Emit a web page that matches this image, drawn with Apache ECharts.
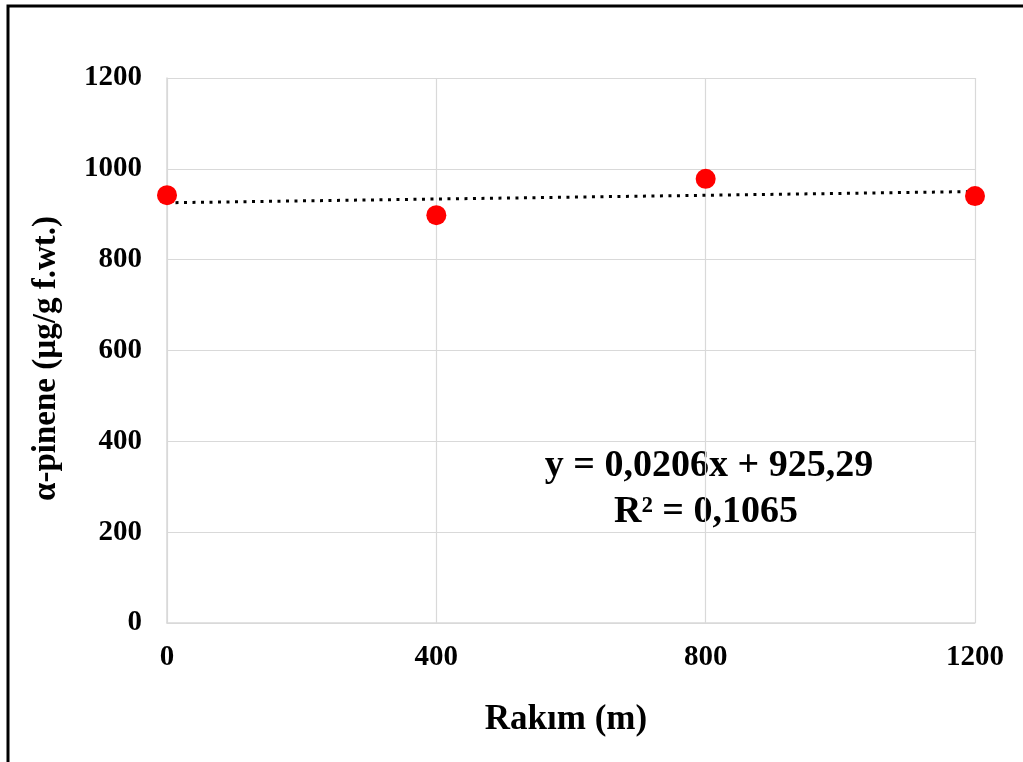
<!DOCTYPE html>
<html>
<head>
<meta charset="utf-8">
<script src="https://cdn.jsdelivr.net/npm/echarts@6/dist/echarts.min.js"></script>
<style>
  html, body { margin: 0; padding: 0; background: #fff; }
  #chart { width: 1023px; height: 762px; }
</style>
</head>
<body>
<div id="chart"></div>
<script>
// Altitude (m) and alpha-pinene content (µg/g fresh weight)
const altitudes = [0, 400, 800, 1200];
const pinene = [942, 898, 978, 940];

// Linear trend as reported on the chart
const trendSlope = 0.0206;
const trendIntercept = 925.29;
const trendRange = [0, 1200];
const equationText = 'y = 0,0206x + 925,29';
const r2Text = 'R² = 0,1065';

const xTicks = [0, 400, 800, 1200];
const yTicks = [0, 200, 400, 600, 800, 1000, 1200];

const FONT = '"Liberation Serif", "Times New Roman", serif';

const points = altitudes.map((x, i) => [x, pinene[i]]);
const trend = trendRange.map(x => [x, trendSlope * x + trendIntercept]);

const plain = v => String(v);

const chart = echarts.init(document.getElementById('chart'));
chart.setOption({
  backgroundColor: '#fff',
  animation: false,
  grid: { left: 167, right: 48, top: 78, bottom: 139 },
  xAxis: {
    type: 'value',
    min: xTicks[0],
    max: xTicks[xTicks.length - 1],
    interval: 400,
    name: 'Rakım (m)',
    nameLocation: 'middle',
    nameGap: 79,
    nameTextStyle: { fontFamily: FONT, fontWeight: 'bold', fontSize: 35, color: '#000', padding: [0, 10, 0, 0] },
    axisLine: { show: true, lineStyle: { color: '#d9d9d9', width: 1.5 } },
    axisTick: { show: false },
    axisLabel: { fontFamily: FONT, fontWeight: 'bold', fontSize: 29, color: '#000', margin: 20, formatter: plain },
    splitLine: { show: true, lineStyle: { color: '#d9d9d9', width: 1.2 } }
  },
  yAxis: {
    type: 'value',
    min: yTicks[0],
    max: yTicks[yTicks.length - 1],
    interval: 200,
    name: 'α-pinene (µg/g f.wt.)',
    nameLocation: 'middle',
    nameGap: 104,
    nameTextStyle: { fontFamily: FONT, fontWeight: 'bold', fontSize: 33, color: '#000', padding: [0, 16, 0, 0] },
    axisLine: { show: true, lineStyle: { color: '#d9d9d9', width: 1.5 } },
    axisTick: { show: false },
    axisLabel: { fontFamily: FONT, fontWeight: 'bold', fontSize: 29, color: '#000', margin: 25, formatter: plain },
    splitLine: { show: true, lineStyle: { color: '#d9d9d9', width: 1.2 } }
  },
  series: [
    {
      type: 'line',
      data: trend,
      symbol: 'none',
      z: 2,
      lineStyle: { color: '#000', width: 3, type: [3, 5.5], cap: 'butt' }
    },
    {
      type: 'scatter',
      data: points,
      symbol: 'circle',
      symbolSize: 20,
      z: 3,
      itemStyle: { color: '#ff0000', opacity: 1 }
    }
  ],
  graphic: [
    {
      type: 'rect',
      shape: { x: 8, y: 6, width: 1040, height: 800 },
      style: { fill: 'none', stroke: '#000', lineWidth: 3 },
      silent: true
    },
    {
      type: 'text',
      x: 709, y: 466,
      style: {
        text: equationText,
        fontFamily: FONT, fontWeight: 'bold', fontSize: 38, fill: '#000',
        align: 'center', verticalAlign: 'middle'
      }
    },
    {
      type: 'text',
      x: 706, y: 512,
      style: {
        text: r2Text,
        fontFamily: FONT, fontWeight: 'bold', fontSize: 38, fill: '#000',
        align: 'center', verticalAlign: 'middle'
      }
    }
  ]
});
</script>
</body>
</html>
